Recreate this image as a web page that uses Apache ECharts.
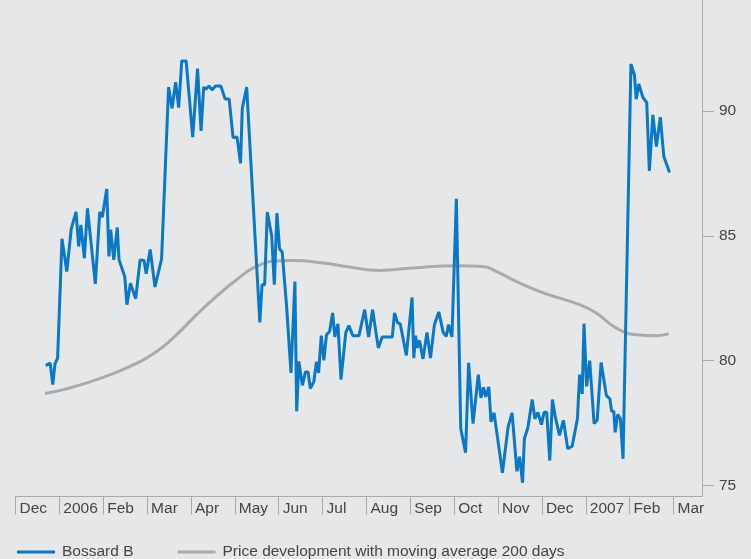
<!DOCTYPE html>
<html>
<head>
<meta charset="utf-8">
<script src="https://cdn.jsdelivr.net/npm/echarts@6/dist/echarts.min.js"></script>
<style>
  html, body { margin: 0; padding: 0; background: #e6e7e9; }
  #chart { width: 751px; height: 559px; }
</style>
</head>
<body>
<div id="chart"></div>
<script>
// Month labels (x axis units: months since 1 Dec 2005)
const monthLabels = ['Dec', '2006', 'Feb', 'Mar', 'Apr', 'May', 'Jun', 'Jul', 'Aug', 'Sep', 'Oct', 'Nov', 'Dec', '2007', 'Feb', 'Mar'];
const yTicks = [75, 80, 85, 90];

// Bossard B share price
const priceMonths = [0.69,0.79,0.85,0.90,0.96,1.06,1.17,1.27,1.38,1.44,1.49,1.57,1.64,1.82,1.92,1.98,2.08,2.13,2.17,2.24,
  2.32,2.36,2.49,2.54,2.62,2.74,2.84,2.93,2.98,3.07,3.18,3.33,3.49,3.57,3.65,3.72,3.79,3.89,4.04,4.15,
  4.23,4.29,4.34,4.41,4.48,4.56,4.68,4.78,4.87,4.96,5.05,5.13,5.17,5.27,5.57,5.62,5.68,5.74,5.78,5.84,
  5.87,5.90,5.96,6.02,6.08,6.18,6.28,6.37,6.41,6.46,6.54,6.61,6.67,6.72,6.80,6.86,6.91,6.97,7.03,7.09,
  7.16,7.23,7.28,7.35,7.42,7.53,7.60,7.69,7.83,7.96,8.05,8.14,8.18,8.27,8.36,8.59,8.64,8.71,8.77,8.91,
  9.04,9.08,9.12,9.16,9.21,9.29,9.38,9.46,9.55,9.65,9.75,9.82,9.87,9.95,10.05,10.15,10.26,10.33,10.43,10.55,
  10.61,10.67,10.72,10.79,10.84,10.91,11.10,11.23,11.32,11.43,11.49,11.56,11.60,11.68,11.78,11.84,11.91,11.99,12.05,12.11,
  12.18,12.24,12.30,12.34,12.40,12.49,12.59,12.69,12.81,12.86,12.92,12.96,13.02,13.09,13.19,13.26,13.35,13.47,13.55,13.59,
  13.64,13.67,13.73,13.79,13.85,14.03,14.11,14.15,14.21,14.30,14.39,14.45,14.53,14.61,14.70,14.78,14.91];
const priceValues = [79.8,79.9,79.04,79.87,80.1,84.88,83.57,85.27,85.96,84.57,85.43,84.1,86.1,83.07,85.95,85.75,86.87,84.17,85.24,84.04,
  85.33,84.04,83.37,82.24,83.1,82.48,84.03,84.01,83.48,84.45,82.95,84.07,90.95,90.1,91.15,90.13,92.0,92.0,88.95,91.69,
  89.2,90.95,90.87,91.0,90.84,91.0,91.0,90.48,90.48,88.93,88.96,87.9,90.1,90.95,81.53,83.04,83.04,85.95,85.95,85.0,
  85.0,83.04,85.91,84.47,84.35,82.17,79.51,83.17,77.97,79.97,79.01,79.55,79.55,78.88,79.15,79.95,79.51,81.0,80.01,81.04,
  81.17,81.91,80.95,81.47,79.24,81.13,81.4,81.0,81.0,82.04,80.95,82.04,82.0,80.51,80.95,80.95,81.91,81.51,81.48,80.21,
  82.53,80.1,81.0,80.51,80.81,80.07,81.13,80.1,81.44,81.95,81.13,80.97,81.44,80.95,86.48,77.28,76.31,79.91,77.48,79.44,
  78.51,78.93,78.55,78.95,77.55,77.91,75.51,77.35,77.91,75.57,76.15,75.11,76.87,77.31,78.44,77.67,77.93,77.44,77.93,77.93,
  76.0,78.44,77.8,77.77,77.01,77.61,76.47,76.57,77.67,79.44,78.67,81.48,78.97,80.0,77.48,77.61,79.93,78.6,78.47,77.97,
  77.97,77.13,77.84,77.67,76.07,91.88,91.44,90.47,91.08,90.55,90.33,87.6,89.84,88.57,89.75,88.17,87.53];

// 200-day moving average
const maMonths = [0.67,1.09,1.85,2.61,3.22,3.59,4.13,4.58,5.04,5.49,6.03,6.33,7.01,7.54,8.30,9.06,10.05,10.66,10.96,11.57,12.10,12.86,13.24,13.69,14.15,14.61,14.89];
const maValues = [78.68,78.84,79.24,79.77,80.37,80.9,81.84,82.57,83.24,83.77,84.0,84.01,83.91,83.77,83.61,83.71,83.8,83.77,83.57,83.04,82.67,82.24,81.91,81.31,81.04,81.0,81.07];

const seriesNames = ['Bossard B', 'Price development with moving average 200 days'];

const chart = echarts.init(document.getElementById('chart'), null, { renderer: 'canvas' });
const axisColor = '#aaaaaa';
const textColor = '#444444';
const fontFamily = 'Liberation Sans, Arial, sans-serif';

chart.setOption({
  backgroundColor: '#e6e7e9',
  animation: false,
  grid: { left: 15.5, right: 49, top: 0, bottom: 62.5, containLabel: false },
  legend: {
    left: 12, top: 539,
    itemWidth: 38, itemHeight: 3, itemGap: 44,
    icon: 'rect',
    textStyle: { color: textColor, fontSize: 15.5, fontFamily: fontFamily, padding: [0, 0, 0, 2] },
    data: seriesNames
  },
  xAxis: {
    type: 'value',
    min: 0, max: 15.65,
    splitLine: { show: false },
    axisLine: { show: true, onZero: false, lineStyle: { color: axisColor, width: 1 } },
    axisTick: { show: true, length: 18, lineStyle: { color: axisColor }, customValues: monthLabels.map((_, i) => i) },
    axisLabel: {
      customValues: monthLabels.map((_, i) => i),
      formatter: v => monthLabels[Math.round(v)] || '',
      align: 'left', margin: 4, padding: [0, 0, 0, 4],
      color: textColor, fontSize: 15.5, fontFamily: fontFamily
    }
  },
  yAxis: {
    type: 'value',
    position: 'right',
    min: 74.56, max: 94.44,
    splitLine: { show: false },
    axisLine: { show: true, onZero: false, lineStyle: { color: axisColor, width: 1 } },
    axisTick: { show: true, length: 12, lineStyle: { color: axisColor }, customValues: yTicks },
    axisLabel: { customValues: yTicks, margin: 17, color: textColor, fontSize: 15.5, fontFamily: fontFamily }
  },
  series: [
    {
      name: seriesNames[0], type: 'line', symbol: 'none',
      data: priceMonths.map((m, i) => [m, priceValues[i]]),
      lineStyle: { color: '#0a78c6', width: 3 }, itemStyle: { color: '#0a78c6' }, z: 3
    },
    {
      name: seriesNames[1], type: 'line', symbol: 'none', smooth: true,
      data: maMonths.map((m, i) => [m, maValues[i]]),
      lineStyle: { color: '#aaaaaa', width: 3 }, itemStyle: { color: '#aaaaaa' }, z: 2
    }
  ]
});
</script>
</body>
</html>
